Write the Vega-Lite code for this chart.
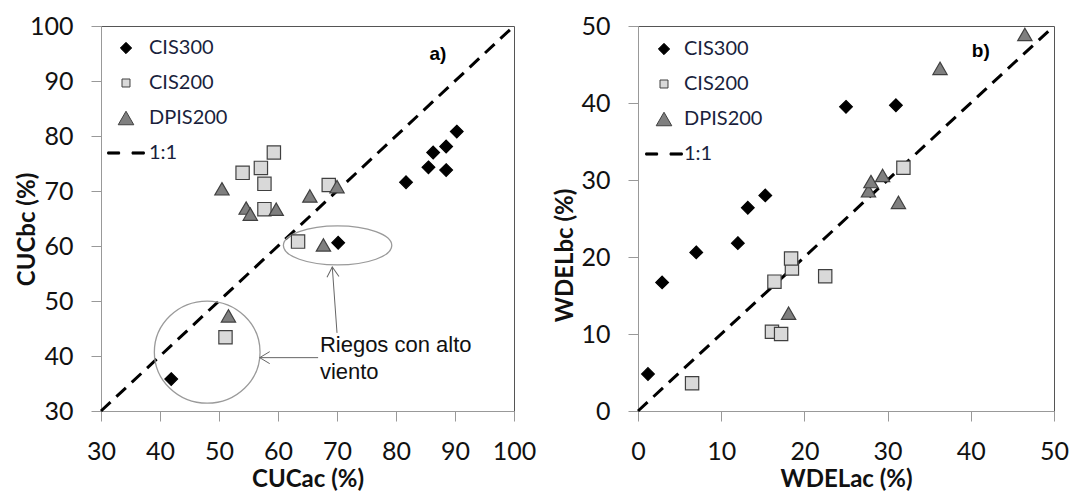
{
  "$schema": "https://vega.github.io/schema/vega-lite/v6.json",
  "background": "white",
  "padding": {"left": 14, "top": 13, "right": 0, "bottom": 0},
  "bounds": "flush",
  "spacing": 124,
  "config": {
    "view": {"stroke": "#555555", "strokeWidth": 1},
    "axis": {
      "grid": false,
      "domainColor": "#999999",
      "tickColor": "#999999",
      "tickSize": 10,
      "labelFont": "Lato",
      "labelFontSize": 25,
      "labelColor": "#111111",
      "labelPadding": 18,
      "labelFlush": false,
      "labelOverlap": false,
      "titleFont": "Lato",
      "titleFontSize": 24,
      "titleFontWeight": "bold",
      "titleColor": "#111111",
      "titlePadding": 3
    },
    "legend": {
      "padding": 0,
      "symbolSize": 930,
      "symbolOpacity": 1,
      "symbolStrokeWidth": 1,
      "rowPadding": 9,
      "labelFont": "Lato",
      "labelFontSize": 20,
      "labelColor": "#1a1f3d"
    }
  },
  "datasets": {
    "pts_a": [
      {"series": "CIS300", "x": 41.9, "y": 35.8},
      {"series": "CIS300", "x": 70.2, "y": 60.6},
      {"series": "CIS300", "x": 81.7, "y": 71.6},
      {"series": "CIS300", "x": 85.5, "y": 74.3},
      {"series": "CIS300", "x": 86.3, "y": 77.0},
      {"series": "CIS300", "x": 88.5, "y": 73.8},
      {"series": "CIS300", "x": 88.5, "y": 78.1},
      {"series": "CIS300", "x": 90.3, "y": 80.8},
      {"series": "CIS200", "x": 51.1, "y": 43.4},
      {"series": "CIS200", "x": 63.4, "y": 60.8},
      {"series": "CIS200", "x": 54.0, "y": 73.3},
      {"series": "CIS200", "x": 57.1, "y": 74.2},
      {"series": "CIS200", "x": 59.3, "y": 77.0},
      {"series": "CIS200", "x": 57.7, "y": 71.3},
      {"series": "CIS200", "x": 57.7, "y": 66.7},
      {"series": "CIS200", "x": 68.6, "y": 71.1},
      {"series": "DPIS200", "x": 51.6, "y": 47.3},
      {"series": "DPIS200", "x": 67.7, "y": 60.2},
      {"series": "DPIS200", "x": 50.5, "y": 70.4},
      {"series": "DPIS200", "x": 54.6, "y": 66.9},
      {"series": "DPIS200", "x": 55.3, "y": 65.8},
      {"series": "DPIS200", "x": 59.7, "y": 66.7},
      {"series": "DPIS200", "x": 65.4, "y": 69.1},
      {"series": "DPIS200", "x": 70.0, "y": 70.8}
    ],
    "pts_b": [
      {"series": "CIS300", "x": 1.2, "y": 4.8},
      {"series": "CIS300", "x": 2.9, "y": 16.7},
      {"series": "CIS300", "x": 7.0, "y": 20.6},
      {"series": "CIS300", "x": 12.0, "y": 21.8},
      {"series": "CIS300", "x": 13.2, "y": 26.4},
      {"series": "CIS300", "x": 15.3, "y": 28.0},
      {"series": "CIS300", "x": 25.0, "y": 39.5},
      {"series": "CIS300", "x": 31.0, "y": 39.7},
      {"series": "CIS200", "x": 6.5, "y": 3.6},
      {"series": "CIS200", "x": 16.1, "y": 10.3},
      {"series": "CIS200", "x": 17.2, "y": 10.0},
      {"series": "CIS200", "x": 16.4, "y": 16.8},
      {"series": "CIS200", "x": 18.5, "y": 18.5},
      {"series": "CIS200", "x": 18.4, "y": 19.8},
      {"series": "CIS200", "x": 22.5, "y": 17.5},
      {"series": "CIS200", "x": 31.9, "y": 31.6},
      {"series": "DPIS200", "x": 18.1, "y": 12.7},
      {"series": "DPIS200", "x": 27.7, "y": 28.6},
      {"series": "DPIS200", "x": 28.0, "y": 29.8},
      {"series": "DPIS200", "x": 29.4, "y": 30.6},
      {"series": "DPIS200", "x": 31.3, "y": 27.1},
      {"series": "DPIS200", "x": 36.3, "y": 44.5},
      {"series": "DPIS200", "x": 46.5, "y": 48.9}
    ],
    "diag_a": [{"x": 30, "y": 30}, {"x": 100, "y": 100}],
    "diag_b": [{"x": 0, "y": 0}, {"x": 50, "y": 50}],
    "circle_a": [{"x": 48.0, "y": 40.7}],
    "ellipse_a": [{"x": 70.1, "y": 60.1}],
    "arrows_a": [
      {"id": "h", "x": 56.9, "y": 39.7},
      {"id": "h", "x": 66.8, "y": 39.7},
      {"id": "v", "x": 69.2, "y": 56.2},
      {"id": "v", "x": 70.0, "y": 44.2}
    ],
    "tip_h": [{"x": 56.9, "y": 39.7}],
    "tip_v": [{"x": 69.2, "y": 56.2}],
    "note_a": [{"x": 67.1, "y": 43.8, "text": "Riegos con alto\nviento"}],
    "tag_a": [{"x": 87.1, "y": 95.0, "text": "a)"}],
    "tag_b": [{"x": 41.2, "y": 46.7, "text": "b)"}]
  },
  "hconcat": [
    {
      "width": 413,
      "height": 385,
      "layer": [
        {
          "data": {"name": "diag_a"},
          "mark": {"type": "line", "color": "#000000", "strokeWidth": 3, "strokeDash": [13, 8], "strokeCap": "butt"},
          "encoding": {
            "x": {"field": "x", "type": "quantitative", "scale": {"domain": [30, 100], "nice": false},
                  "axis": {"values": [30, 40, 50, 60, 70, 80, 90, 100], "title": "CUCac (%)"}},
            "y": {"field": "y", "type": "quantitative", "scale": {"domain": [30, 100], "nice": false},
                  "axis": {"values": [30, 40, 50, 60, 70, 80, 90, 100], "title": "CUCbc (%)",
                           "titleX": -74, "titleY": 203, "titleBaseline": "middle", "titleAlign": "center", "titleAngle": 270}}
          }
        },
        {
          "data": {"name": "circle_a"},
          "mark": {"type": "point", "shape": "M -1 0 A 1 0.965 0 1 1 1 0 A 1 0.965 0 1 1 -1 0 Z", "size": 11172, "filled": false, "stroke": "#9a9a9a", "strokeWidth": 1.3, "opacity": 1},
          "encoding": {"x": {"field": "x", "type": "quantitative"}, "y": {"field": "y", "type": "quantitative"}}
        },
        {
          "data": {"name": "ellipse_a"},
          "mark": {"type": "point", "shape": "M -1 0 A 1 0.36 0 1 1 1 0 A 1 0.36 0 1 1 -1 0 Z", "size": 11750, "filled": false, "stroke": "#9a9a9a", "strokeWidth": 1.3, "opacity": 1},
          "encoding": {"x": {"field": "x", "type": "quantitative"}, "y": {"field": "y", "type": "quantitative"}}
        },
        {
          "data": {"name": "arrows_a"},
          "mark": {"type": "line", "color": "#666666", "strokeWidth": 1},
          "encoding": {"x": {"field": "x", "type": "quantitative"}, "y": {"field": "y", "type": "quantitative"}, "detail": {"field": "id", "type": "nominal"}}
        },
        {
          "data": {"name": "tip_h"},
          "mark": {"type": "point", "shape": "M 1 -0.6 L 0 0 L 1 0.6", "size": 400, "filled": false, "stroke": "#666666", "strokeWidth": 1, "opacity": 1, "angle": 0},
          "encoding": {"x": {"field": "x", "type": "quantitative"}, "y": {"field": "y", "type": "quantitative"}}
        },
        {
          "data": {"name": "tip_v"},
          "mark": {"type": "point", "shape": "M 1 -0.6 L 0 0 L 1 0.6", "size": 400, "filled": false, "stroke": "#666666", "strokeWidth": 1, "opacity": 1, "angle": 86},
          "encoding": {"x": {"field": "x", "type": "quantitative"}, "y": {"field": "y", "type": "quantitative"}}
        },
        {
          "data": {"name": "note_a"},
          "mark": {"type": "text", "align": "left", "baseline": "top", "font": "Liberation Sans", "fontSize": 22, "lineHeight": 27, "lineBreak": "\n", "color": "#111111"},
          "encoding": {"x": {"field": "x", "type": "quantitative"}, "y": {"field": "y", "type": "quantitative"}, "text": {"field": "text"}}
        },
        {
          "data": {"name": "tag_a"},
          "mark": {"type": "text", "align": "center", "baseline": "middle", "font": "Liberation Sans", "fontSize": 19, "fontWeight": "bold", "color": "#000000"},
          "encoding": {"x": {"field": "x", "type": "quantitative"}, "y": {"field": "y", "type": "quantitative"}, "text": {"field": "text"}}
        },
        {
          "data": {"name": "pts_a"},
          "mark": {"type": "point", "filled": true, "opacity": 1, "strokeWidth": 1.2},
          "encoding": {
            "x": {"field": "x", "type": "quantitative"},
            "y": {"field": "y", "type": "quantitative"},
            "shape": {"field": "series", "type": "nominal",
              "scale": {"domain": ["CIS300", "CIS200", "DPIS200", "1:1"], "range": [
                "M 0 -0.37 L 0.37 0 L 0 0.37 L -0.37 0 Z",
                "M -0.262 -0.262 L 0.262 -0.262 L 0.262 0.262 L -0.262 0.262 Z",
                "M 0 -0.443 L 0.511 0.443 L -0.511 0.443 Z",
                "M -1.2 -0.07 L -0.42 -0.07 L -0.42 0.07 L -1.2 0.07 Z M 0.4 -0.07 L 1.2 -0.07 L 1.2 0.07 L 0.4 0.07 Z"]},
              "legend": {"title": null, "orient": "none", "legendX": 9, "legendY": 6, "labelOffset": 7}},
            "fill": {"field": "series", "type": "nominal",
              "scale": {"domain": ["CIS300", "CIS200", "DPIS200", "1:1"], "range": ["#000000", "#d9d9d9", "#7f7f7f", "#000000"]}},
            "stroke": {"field": "series", "type": "nominal",
              "scale": {"domain": ["CIS300", "CIS200", "DPIS200", "1:1"], "range": ["#000000", "#404040", "#404040", "#000000"]}},
            "size": {"field": "series", "type": "nominal", "scale": {"type": "ordinal", "domain": ["CIS300", "CIS200", "DPIS200"], "range": [1178, 2578, 783]}, "legend": null}
          }
        }
      ]
    },
    {
      "width": 416,
      "height": 385,
      "layer": [
        {
          "data": {"name": "diag_b"},
          "mark": {"type": "line", "color": "#000000", "strokeWidth": 3, "strokeDash": [13, 8], "strokeCap": "butt"},
          "encoding": {
            "x": {"field": "x", "type": "quantitative", "scale": {"domain": [0, 50], "nice": false},
                  "axis": {"values": [0, 10, 20, 30, 40, 50], "title": "WDELac (%)"}},
            "y": {"field": "y", "type": "quantitative", "scale": {"domain": [0, 50], "nice": false},
                  "axis": {"values": [0, 10, 20, 30, 40, 50], "title": "WDELbc (%)",
                           "titleX": -73, "titleY": 229, "titleBaseline": "middle", "titleAlign": "center", "titleAngle": 270}}
          }
        },
        {
          "data": {"name": "tag_b"},
          "mark": {"type": "text", "align": "center", "baseline": "middle", "font": "Liberation Sans", "fontSize": 19, "fontWeight": "bold", "color": "#000000"},
          "encoding": {"x": {"field": "x", "type": "quantitative"}, "y": {"field": "y", "type": "quantitative"}, "text": {"field": "text"}}
        },
        {
          "data": {"name": "pts_b"},
          "mark": {"type": "point", "filled": true, "opacity": 1, "strokeWidth": 1.2},
          "encoding": {
            "x": {"field": "x", "type": "quantitative"},
            "y": {"field": "y", "type": "quantitative"},
            "shape": {"field": "series", "type": "nominal",
              "scale": {"domain": ["CIS300", "CIS200", "DPIS200", "1:1"], "range": [
                "M 0 -0.37 L 0.37 0 L 0 0.37 L -0.37 0 Z",
                "M -0.262 -0.262 L 0.262 -0.262 L 0.262 0.262 L -0.262 0.262 Z",
                "M 0 -0.443 L 0.511 0.443 L -0.511 0.443 Z",
                "M -1.2 -0.07 L -0.42 -0.07 L -0.42 0.07 L -1.2 0.07 Z M 0.4 -0.07 L 1.2 -0.07 L 1.2 0.07 L 0.4 0.07 Z"]},
              "legend": {"title": null, "orient": "none", "legendX": 10, "legendY": 7, "labelOffset": 4}},
            "fill": {"field": "series", "type": "nominal",
              "scale": {"domain": ["CIS300", "CIS200", "DPIS200", "1:1"], "range": ["#000000", "#d9d9d9", "#7f7f7f", "#000000"]}},
            "stroke": {"field": "series", "type": "nominal",
              "scale": {"domain": ["CIS300", "CIS200", "DPIS200", "1:1"], "range": ["#000000", "#404040", "#404040", "#000000"]}},
            "size": {"field": "series", "type": "nominal", "scale": {"type": "ordinal", "domain": ["CIS300", "CIS200", "DPIS200"], "range": [1178, 2578, 783]}, "legend": null}
          }
        }
      ]
    }
  ],
  "resolve": {
    "scale": {"x": "independent", "y": "independent", "shape": "independent", "fill": "independent", "stroke": "independent", "size": "independent"},
    "axis": {"x": "independent", "y": "independent"},
    "legend": {"shape": "independent", "fill": "independent", "stroke": "independent"}
  }
}
